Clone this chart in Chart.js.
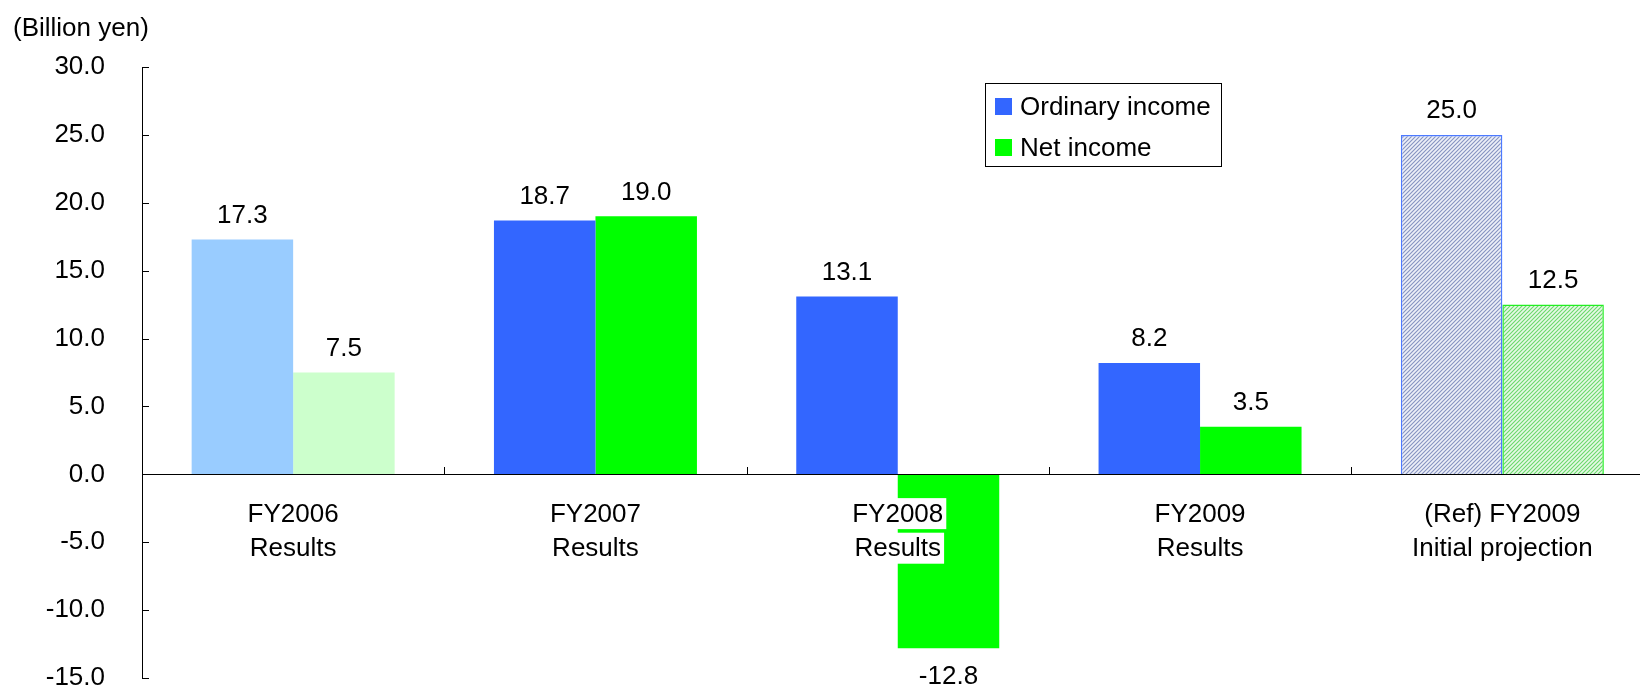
<!DOCTYPE html>
<html>
<head>
<meta charset="utf-8">
<title>Ordinary income and net income</title>
<script src="https://cdn.jsdelivr.net/npm/chart.js@4.4.1/dist/chart.umd.min.js"></script>
<style>
  html, body { margin: 0; padding: 0; background: #fff; overflow: hidden; }
  #wrap { position: relative; width: 1640px; height: 688px; overflow: hidden; }
  canvas { display: block; }
</style>
</head>
<body>
<div id="wrap"><canvas id="c" width="1670" height="700" style="width:1670px;height:700px"></canvas></div>
<script>
// ---- data ----
const categories = [
  ['FY2006', 'Results'],
  ['FY2007', 'Results'],
  ['FY2008', 'Results'],
  ['FY2009', 'Results'],
  ['(Ref) FY2009', 'Initial projection']
];
const seriesNames = ['Ordinary income', 'Net income'];
const ordinaryIncome = [17.3, 18.7, 13.1, 8.2, 25.0];
const netIncome = [7.5, 19.0, -12.8, 3.5, 12.5];
const yTickValues = [-15, -10, -5, 0, 5, 10, 15, 20, 25, 30];
const unitLabel = '(Billion yen)';

// ---- styles ----
const FONT = "'Liberation Sans', Arial, Helvetica, sans-serif";
const BLUE = '#3366ff';
const GREEN = '#00ff00';
const PALE_BLUE = '#99ccff';
const PALE_GREEN = '#ccffcc';
const X_LABEL_PAD = 15;
const X_LINE_HEIGHT = 1.33;

const canvas = document.getElementById('c');
const ctx = canvas.getContext('2d');

// diagonal hatch fill used for the projection bars
function hatch(bg, line) {
  const s = 4;
  const tile = document.createElement('canvas');
  tile.width = s; tile.height = s;
  const g = tile.getContext('2d');
  g.fillStyle = bg;
  g.fillRect(0, 0, s, s);
  g.strokeStyle = line;
  g.lineWidth = 1.1;
  g.beginPath();
  g.moveTo(-1, s + 1); g.lineTo(s + 1, -1);
  g.moveTo(-1, 1); g.lineTo(1, -1);
  g.moveTo(s - 1, s + 1); g.lineTo(s + 1, s - 1);
  g.stroke();
  return ctx.createPattern(tile, 'repeat');
}
const hatchBlue = hatch('#edf0f8', '#8592c0');
const hatchGreen = hatch('#e6f9e6', '#6ad86a');

// value labels above (or below) each bar
const valueLabels = {
  id: 'valueLabels',
  afterDatasetsDraw(chart) {
    const c = chart.ctx;
    c.save();
    c.font = '26px ' + FONT;
    c.fillStyle = '#000';
    c.textAlign = 'center';
    c.textBaseline = 'middle';
    chart.data.datasets.forEach((ds, i) => {
      chart.getDatasetMeta(i).data.forEach((bar, j) => {
        const v = ds.data[j];
        const y = v >= 0 ? bar.y - 24 : bar.y + 29;
        c.fillText(v.toFixed(1), bar.x, y);
      });
    });
    c.restore();
  }
};

// white boxes behind each line of the category labels, so they stay
// readable where a negative bar runs through them
const labelBoxes = {
  id: 'labelBoxes',
  afterDatasetsDraw(chart) {
    const c = chart.ctx;
    const xs = chart.scales.x;
    const ys = chart.scales.y;
    const y0 = ys.getPixelForValue(0);
    const lh = 26 * X_LINE_HEIGHT;
    c.save();
    c.font = '26px ' + FONT;
    c.fillStyle = '#fff';
    categories.forEach((lines, i) => {
      const x = xs.getPixelForValue(i);
      lines.forEach((line, k) => {
        const w = c.measureText(line).width;
        const cy = y0 + X_LABEL_PAD + lh / 2 + 7 + k * lh;
        c.fillRect(x - w / 2 - 3, cy - 15.5, w + 6, 31);
      });
    });
    c.restore();
  }
};

// unit caption, inward tick marks and the boxed legend
const decorations = {
  id: 'decorations',
  afterDraw(chart) {
    const c = chart.ctx;
    const xs = chart.scales.x;
    const ys = chart.scales.y;
    const area = chart.chartArea;
    c.save();

    // tick marks pointing into the plot
    c.strokeStyle = '#000';
    c.lineWidth = 1;
    c.beginPath();
    ys.ticks.forEach(t => {
      const y = Math.round(ys.getPixelForValue(t.value)) + 0.5;
      c.moveTo(area.left, y);
      c.lineTo(area.left + 7, y);
    });
    const y0 = Math.round(ys.getPixelForValue(0));
    for (let i = 0; i < categories.length - 1; i++) {
      const x = Math.round((xs.getPixelForValue(i) + xs.getPixelForValue(i + 1)) / 2) + 0.5;
      c.moveTo(x, y0);
      c.lineTo(x, y0 - 7);
    }
    c.stroke();

    // unit caption
    c.font = '26px ' + FONT;
    c.fillStyle = '#000';
    c.textAlign = 'left';
    c.textBaseline = 'alphabetic';
    c.fillText(unitLabel, 13, 36);

    // legend
    const lx = 985, ly = 83, lw = 236, lh = 83;
    c.fillStyle = '#fff';
    c.fillRect(lx, ly, lw, lh);
    c.strokeStyle = '#000';
    c.strokeRect(lx + 0.5, ly + 0.5, lw, lh);
    const legendColors = [BLUE, GREEN];
    chart.data.datasets.forEach((ds, i) => {
      const rowY = 107 + i * 41;
      c.fillStyle = legendColors[i];
      c.fillRect(995, rowY - 9, 17, 17);
      c.fillStyle = '#000';
      c.fillText(ds.label, 1020, rowY + 8);
    });

    c.restore();
  }
};

new Chart(ctx, {
  type: 'bar',
  data: {
    labels: categories,
    datasets: [
      {
        label: seriesNames[0],
        data: ordinaryIncome,
        backgroundColor: [PALE_BLUE, BLUE, BLUE, BLUE, hatchBlue],
        borderColor: '#4d7aff',
        borderWidth: [0, 0, 0, 0, 1.5],
        borderSkipped: 'start'
      },
      {
        label: seriesNames[1],
        data: netIncome,
        backgroundColor: [PALE_GREEN, GREEN, GREEN, GREEN, hatchGreen],
        borderColor: '#22ee22',
        borderWidth: [0, 0, 0, 0, 1.5],
        borderSkipped: 'start'
      }
    ]
  },
  options: {
    responsive: false,
    animation: false,
    devicePixelRatio: 1,
    layout: { padding: { left: 0, top: 67, right: 16.5, bottom: 22 } },
    datasets: { bar: { categoryPercentage: 0.6715, barPercentage: 1 } },
    plugins: {
      legend: { display: false },
      tooltip: { enabled: false },
      title: { display: false }
    },
    scales: {
      x: {
        position: { y: 0 },
        grid: { display: false },
        border: { display: true, color: '#000', width: 1, z: 1 },
        ticks: {
          z: 1,
          color: '#000',
          font: { family: FONT, size: 26, lineHeight: X_LINE_HEIGHT },
          padding: X_LABEL_PAD,
          maxRotation: 0,
          autoSkip: false
        }
      },
      y: {
        min: -15,
        max: 30,
        afterBuildTicks: s => { s.ticks = yTickValues.map(v => ({ value: v })); },
        afterFit: s => {
          s.width = 142;
          s.paddingTop = 0;
          s.paddingBottom = 0;
        },
        grid: { display: false },
        border: { display: true, color: '#000', width: 1 },
        ticks: {
          color: '#000',
          font: { family: FONT, size: 26 },
          padding: 29,
          callback: v => Number(v).toFixed(1)
        }
      }
    }
  },
  plugins: [valueLabels, labelBoxes, decorations]
});
</script>
</body>
</html>
